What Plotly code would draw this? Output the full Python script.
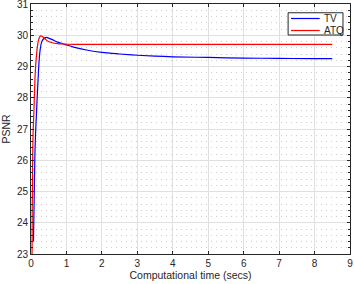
import plotly.graph_objects as go

tv_t = [0.07, 0.09, 0.11, 0.13, 0.15, 0.17, 0.20, 0.23, 0.26, 0.30, 0.35, 0.43, 0.5, 0.6, 0.75, 0.95,
        1.2, 1.6, 2.0, 2.5, 3.0, 3.5, 4.0, 5.0, 6.0, 7.0, 8.0, 8.5]
tv_v = [23.4, 24.8, 26.2, 26.9, 27.4, 27.9, 28.6, 29.2, 29.55, 29.78, 29.88, 29.93, 29.91, 29.86, 29.78, 29.71,
        29.62, 29.52, 29.45, 29.40, 29.36, 29.33, 29.31, 29.29, 29.27, 29.26, 29.25, 29.25]

atq_t = [0.03, 0.035, 0.045, 0.06, 0.08, 0.10, 0.12, 0.15, 0.18, 0.22, 0.27, 0.32, 0.40, 0.48, 0.6, 0.75,
         0.9, 1.2, 2.0, 4.0, 6.0, 8.5]
atq_v = [23.0, 24.5, 25.8, 26.9, 27.5, 28.2, 28.8, 29.3, 29.63, 29.88, 29.98, 29.96, 29.88, 29.81, 29.76, 29.73,
         29.72, 29.71, 29.71, 29.71, 29.71, 29.71]

series_names = ["TV", "ATQ"]
series_colors = ["#0000ff", "#ff0000"]

x_ticks = list(range(0, 10))
y_ticks = list(range(23, 32))

font = "Liberation Sans, Arial, sans-serif"
axcol = "#262626"

fig = go.Figure()
for name, tt, vv, col in zip(series_names, [tv_t, atq_t], [tv_v, atq_v], series_colors):
    fig.add_trace(go.Scatter(x=tt, y=vv, mode="lines", name=name, showlegend=False,
                             line=dict(color=col, width=1.2, shape="spline")))

# compact MATLAB-style legend box
shapes = [dict(type="rect", xref="paper", yref="paper", x0=0.806, x1=0.978, y0=0.876, y1=0.965,
               line=dict(color=axcol, width=1), fillcolor="white", layer="above")]
annotations = []
for i, (name, col) in enumerate(zip(series_names, series_colors)):
    yy = 0.942 - i * 0.048
    shapes.append(dict(type="line", xref="paper", yref="paper", x0=0.815, x1=0.905, y0=yy, y1=yy,
                       line=dict(color=col, width=1.2), layer="above"))
    annotations.append(dict(text=name, xref="paper", yref="paper", x=0.912, y=yy, xanchor="left",
                            yanchor="middle", showarrow=False, font=dict(size=10, color=axcol)))

fig.update_layout(
    width=354, height=284,
    margin=dict(l=31, r=4, t=4, b=30, autoexpand=False),
    paper_bgcolor="white", plot_bgcolor="white",
    font=dict(family=font, size=10, color=axcol),
    showlegend=False,
    shapes=shapes, annotations=annotations,
    xaxis=dict(range=[0, 9], tickvals=x_ticks, ticks="inside", ticklen=3,
               tickcolor=axcol, showline=True, linecolor=axcol, linewidth=1,
               mirror="allticks", showgrid=True, gridcolor="#e0e0e0", gridwidth=1,
               zeroline=False, automargin=False, ticklabeloverflow="allow",
               title=dict(text="Computational time (secs)", standoff=2, font=dict(size=10.5))),
    yaxis=dict(range=[23, 31], tickvals=y_ticks, ticks="inside", ticklen=3,
               tickcolor=axcol, showline=True, linecolor=axcol, linewidth=1,
               mirror="allticks", showgrid=True, gridcolor="#e0e0e0", gridwidth=1,
               zeroline=False, automargin=False, ticklabeloverflow="allow",
               minor=dict(dtick=0.2, ticks="inside", ticklen=2, tickcolor=axcol,
                          showgrid=True, gridcolor="#cfcfcf", griddash="1px,4px", gridwidth=1),
               title=dict(text="PSNR", standoff=4, font=dict(size=10.5))),
)

fig.write_html("out.html", config={"displayModeBar": False},
               post_script="document.body.style.margin='0px';document.body.style.overflow='hidden';")
